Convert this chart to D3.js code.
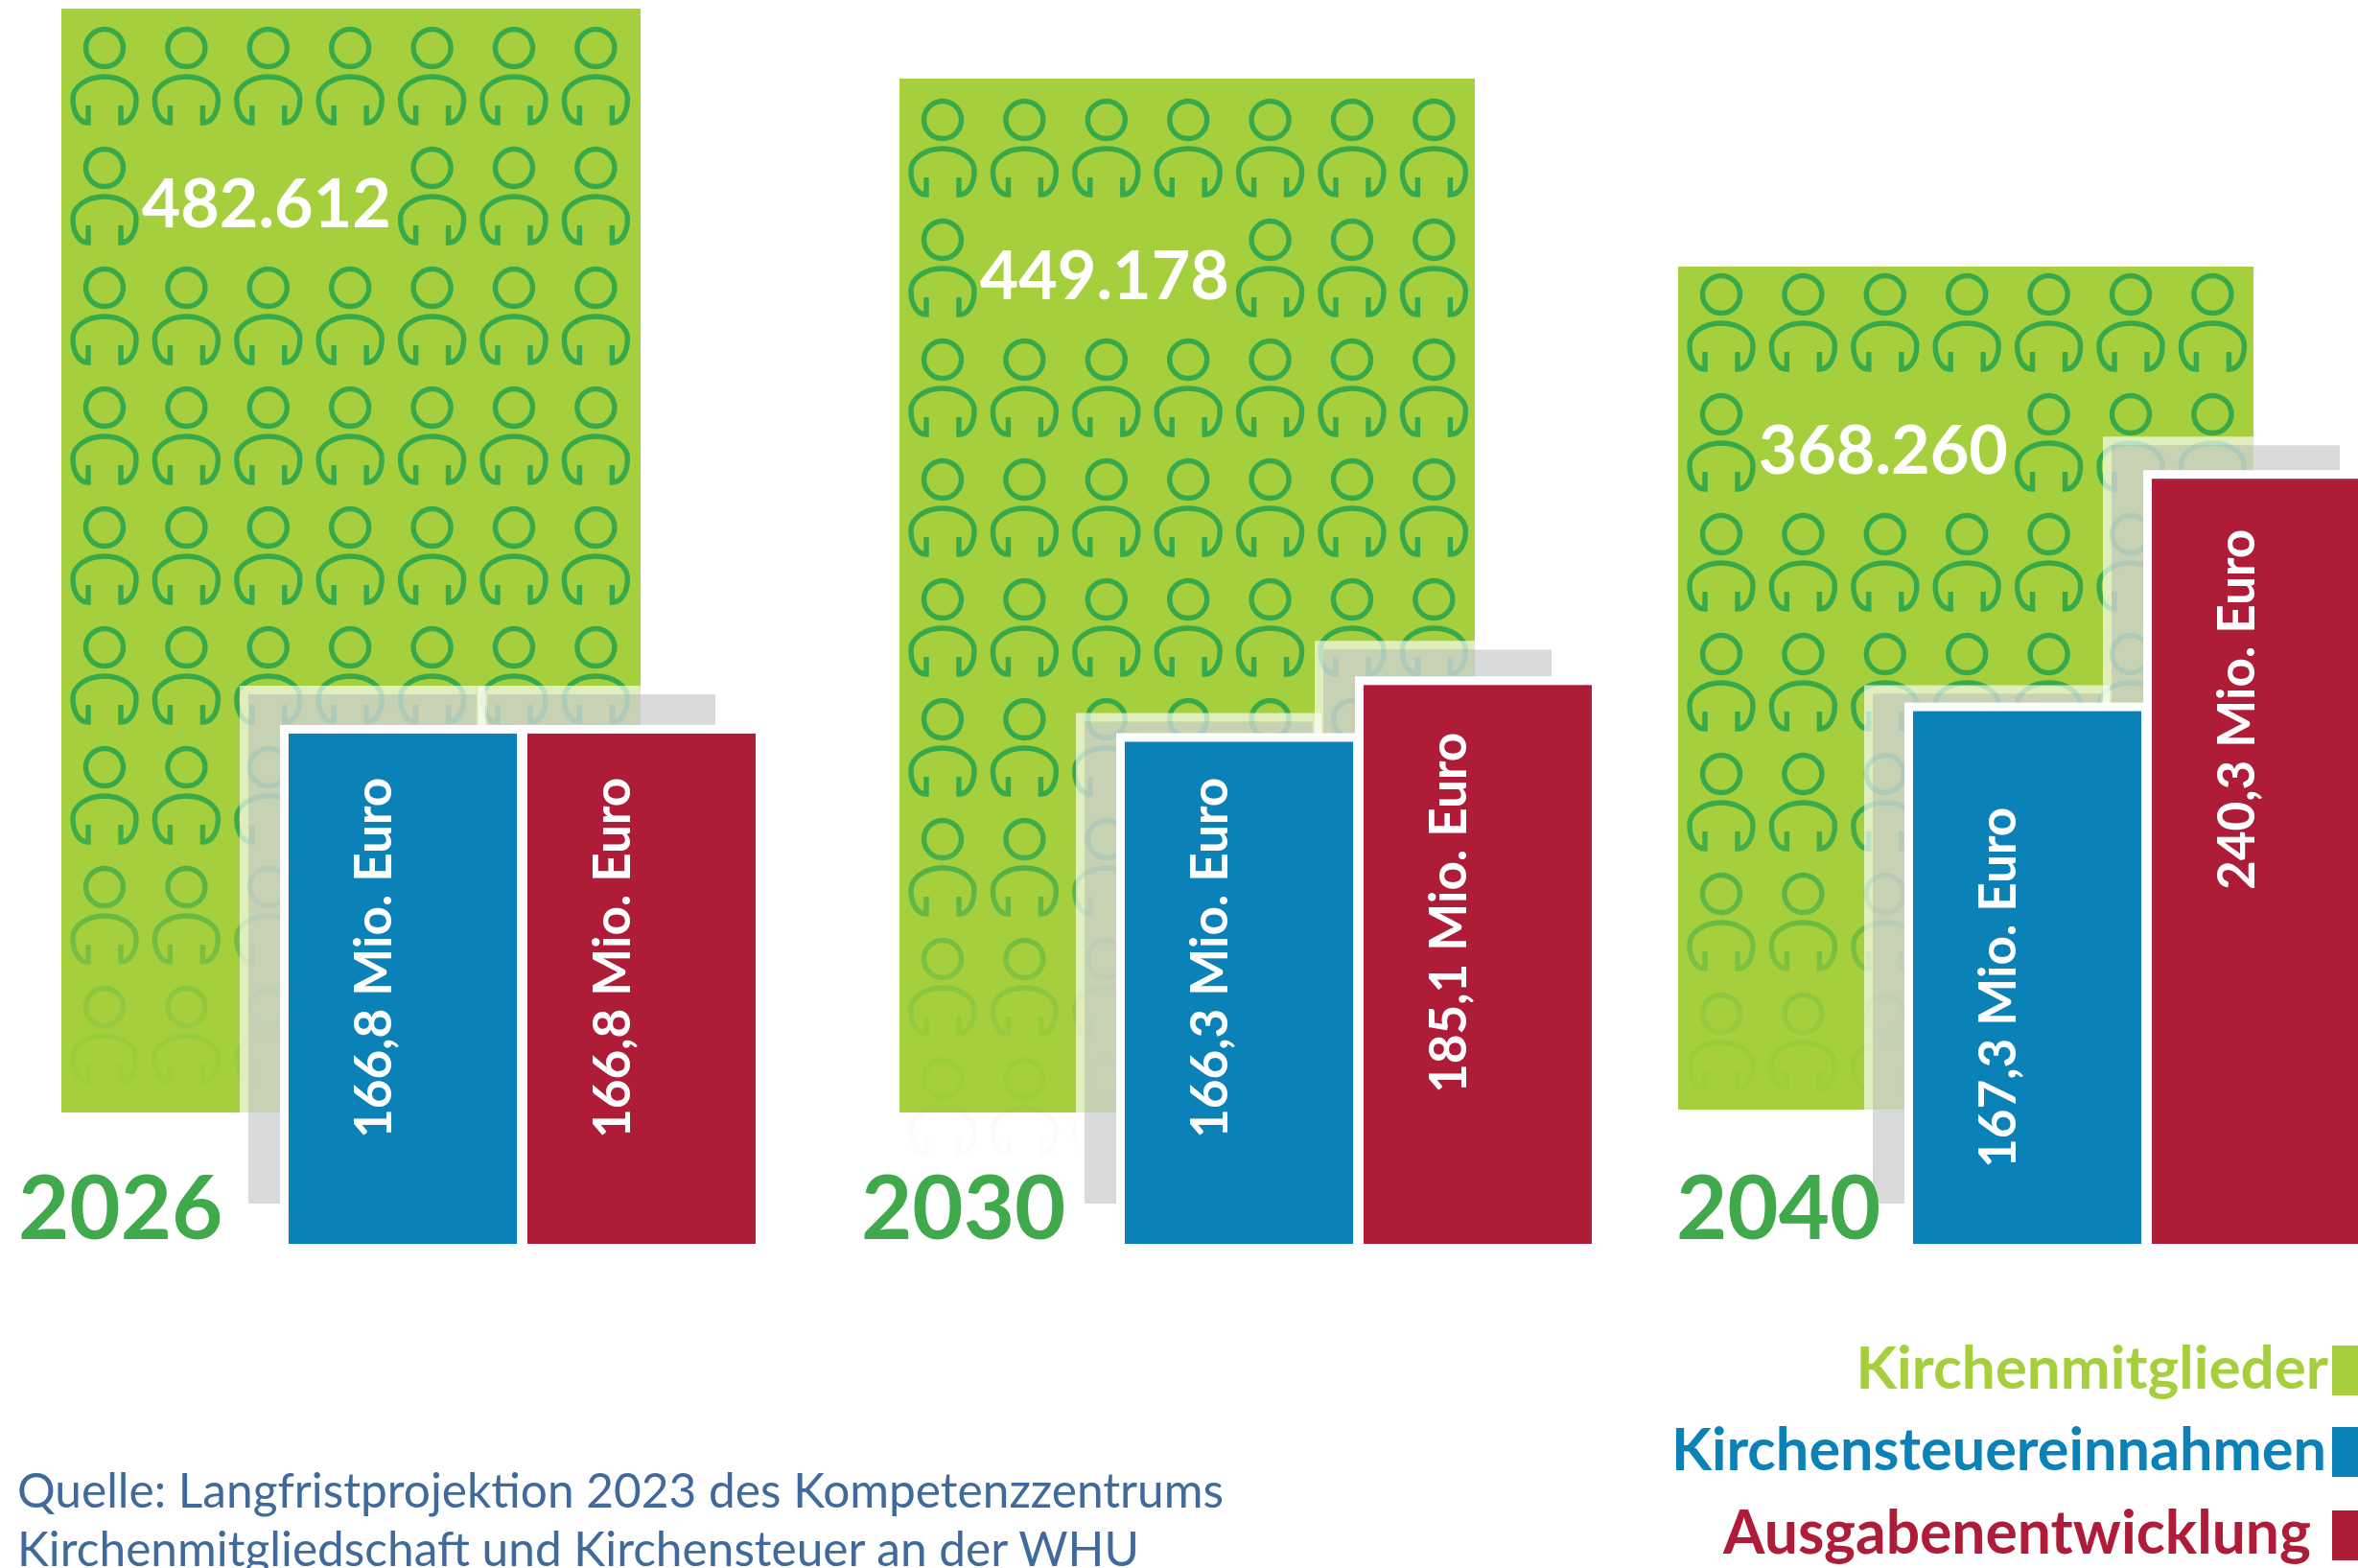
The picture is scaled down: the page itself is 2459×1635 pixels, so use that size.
<!DOCTYPE html>
<html lang="de">
<head>
<meta charset="utf-8">
<title>Kirchenmitglieder, Kirchensteuer und Ausgaben</title>
<script src="https://cdn.jsdelivr.net/npm/d3@7"></script>
<style>
  html, body { margin: 0; background: #fff; overflow: hidden; }
  svg { display: block; }
  text { font-family: Lato, "Open Sans", sans-serif; }
</style>
</head>
<body>
<svg></svg>
<script>
// data
const years = ['2026', '2030', '2040'];
const members = [482612, 449178, 368260];
const income = [166.8, 166.3, 167.3];
const spending = [166.8, 185.1, 240.3];
const legendNames = ['Kirchenmitglieder', 'Kirchensteuereinnahmen', 'Ausgabenentwicklung'];
const sourceLines = [
    'Quelle: Langfristprojektion 2023 des Kompetenzzentrums',
    'Kirchenmitgliedschaft und Kirchensteuer an der WHU'
];

const size = {w: 2459, h: 1635};
const colors = {members: '#a5cf3c', income: '#0a81b7', spending: '#af1c38', person: '#38a94a', year: '#3fa94c', source: '#3f6a9b'};

// the panels are not drawn to one common scale in the original, so each has its own
const layout = {
    greenX: [64, 938, 1750],
    greenBottom: [1160, 1160, 1157],
    greenW: 600,
    memberPx: [1151, 1078, 879],
    barX: [301, 1173, 1995],
    barBottom: 1297,
    barPxPerMio: [3.19, 3.148, 3.32],
    rows: [9, 9, 7],
    firstHead: [41, 43, 29],
    yearX: [19, 898, 1748],
    labelStart: [[110, 110], [110, 157], [79, 369]],
    ghostBottom: 1255,
    ghostLeft: 42,
    ghostRise: [[41, 41], [21, 37], [18, 35]]
};

const svg = d3.select('svg')
    .attr('width', size.w)
    .attr('height', size.h)
    .attr('viewBox', [0, 0, size.w, size.h]);

const de = d3.formatLocale({decimal: ',', thousands: '.', grouping: [3], currency: ['', ' €']});
const fmtMembers = de.format(',d');
const fmtMio = de.format(',.1f');

// people fade out towards the bottom of the green block
const defs = svg.append('defs');
const grad = defs.append('linearGradient')
    .attr('id', 'fade')
    .attr('gradientUnits', 'userSpaceOnUse')
    .attr('x1', 0).attr('x2', 0).attr('y1', 830).attr('y2', 1200);
grad.selectAll('stop')
    .data([[0, 1], [0.14, 0.9], [0.26, 0.68], [0.46, 0.38], [0.61, 0.14], [0.8, 0.05], [1, 0.025]])
    .join('stop')
    .attr('offset', d => d[0])
    .attr('stop-color', '#fff')
    .attr('stop-opacity', d => d[1]);
defs.append('mask')
    .attr('id', 'fadeMask')
    .attr('maskUnits', 'userSpaceOnUse')
    .attr('x', 0).attr('y', 0).attr('width', size.w).attr('height', size.h)
    .append('rect')
    .attr('width', size.w).attr('height', size.h)
    .attr('fill', 'url(#fade)');

const bodyPath = 'M-17 60V78C-27 78-33 67-33 53C-33 40-18 30 0 30C18 30 33 40 33 53C33 67 27 78 17 78V60';

const panel = svg.selectAll('g.panel')
    .data(years.map((year, i) => ({year, i})))
    .join('g')
    .classed('panel', true);

panel.each(function(p) {
    const g = d3.select(this);
    const i = p.i;
    const bottom = layout.greenBottom[i];
    const memberY = d3.scaleLinear().domain([0, members[i]]).range([bottom, bottom - layout.memberPx[i]]);
    const top = memberY(members[i]);

    g.append('rect')
        .attr('x', layout.greenX[i])
        .attr('y', top)
        .attr('width', layout.greenW + (i === 0 ? 4 : 0))
        .attr('height', bottom - top)
        .attr('fill', colors.members);

    // 7 columns of people, columns 1-3 of the second row leave room for the number
    const colX = d3.scalePoint().domain(d3.range(7))
        .range([layout.greenX[i] + 45, layout.greenX[i] + 45 + 6 * 85.4]);
    const rowY = d3.scalePoint().domain(d3.range(layout.rows[i]))
        .range([top + layout.firstHead[i], top + layout.firstHead[i] + (layout.rows[i] - 1) * 125]);
    const cells = d3.cross(d3.range(layout.rows[i]), d3.range(7))
        .filter(d => !(d[0] === 1 && d[1] >= 1 && d[1] <= 3));

    const person = g.append('g')
        .attr('mask', 'url(#fadeMask)')
        .attr('fill', 'none')
        .attr('stroke', colors.person)
        .attr('stroke-width', 5.4)
        .selectAll('g')
        .data(cells)
        .join('g')
        .attr('transform', d => `translate(${colX(d[1])},${rowY(d[0])})`);
    person.append('circle').attr('r', 19.5);
    person.append('path').attr('d', bodyPath);

    g.append('text')
        .attr('x', colX(2) - 2)
        .attr('y', rowY(1) + 62)
        .attr('text-anchor', 'middle')
        .attr('font-size', 70)
        .attr('font-weight', 700)
        .attr('fill', '#fff')
        .text(fmtMembers(members[i]));

    const barX = d3.scaleBand().domain(['income', 'spending'])
        .range([layout.barX[i], layout.barX[i] + 487])
        .paddingInner(11 / 249);
    const barY = d3.scaleLinear().domain([0, 1]).range([layout.barBottom, layout.barBottom - layout.barPxPerMio[i]]);
    const bars = [
        {key: 'income', v: income[i], n: 0},
        {key: 'spending', v: spending[i], n: 1}
    ];
    const ghostTop = d => barY(d.v) - layout.ghostRise[i][d.n];

    // offset ghost of the bars, with a pale edge on three sides
    g.append('g').selectAll('rect')
        .data(bars)
        .join('rect')
        .attr('x', d => barX(d.key) - layout.ghostLeft)
        .attr('y', ghostTop)
        .attr('width', barX.bandwidth())
        .attr('height', d => layout.ghostBottom - ghostTop(d))
        .attr('fill', 'rgba(208,209,210,0.8)');
    g.append('g').selectAll('path')
        .data(bars)
        .join('path')
        .attr('d', d => {
            const x0 = barX(d.key) - layout.ghostLeft - 4.5;
            const x1 = x0 + barX.bandwidth() + 9;
            const y = ghostTop(d) - 4.5;
            return d3.line()([[x0, layout.ghostBottom], [x0, y], [x1, y], [x1, layout.ghostBottom]]);
        })
        .attr('fill', 'none')
        .attr('stroke', 'rgba(255,255,255,0.65)')
        .attr('stroke-width', 9);

    g.append('g').selectAll('rect')
        .data(bars)
        .join('rect')
        .attr('x', d => barX(d.key))
        .attr('y', d => barY(d.v))
        .attr('width', barX.bandwidth())
        .attr('height', d => layout.barBottom - barY(d.v))
        .attr('fill', d => colors[d.key])
        .attr('stroke', '#fff')
        .attr('stroke-width', 18)
        .style('paint-order', 'stroke');

    g.append('g').selectAll('text')
        .data(bars)
        .join('text')
        .attr('transform', d => `translate(${barX(d.key) + 107},${layout.barBottom - layout.labelStart[i][d.n]}) rotate(-90)`)
        .attr('font-size', 53)
        .attr('font-weight', 700)
        .attr('fill', '#fff')
        .text(d => fmtMio(d.v) + ' Mio. Euro');

    g.append('text')
        .attr('x', layout.yearX[i])
        .attr('y', 1292)
        .attr('font-size', 92)
        .attr('font-weight', 700)
        .attr('fill', colors.year)
        .text(p.year);
});

// legend
const legendY = d3.scaleOrdinal().domain(legendNames).range([1448, 1533, 1620]);
const legendRight = d3.scaleOrdinal().domain(legendNames).range([2428, 2426, 2410]);
const legendColor = d3.scaleOrdinal().domain(legendNames).range([colors.members, colors.income, colors.spending]);
const legendFont = d3.scaleOrdinal().domain(legendNames).range([62, 61.2, 62.4]);
const legend = svg.append('g').selectAll('g')
    .data(legendNames)
    .join('g');
legend.append('text')
    .attr('x', d => legendRight(d))
    .attr('y', d => legendY(d))
    .attr('text-anchor', 'end')
    .attr('font-size', d => legendFont(d))
    .attr('font-weight', 700)
    .attr('fill', d => legendColor(d))
    .text(d => d);
legend.append('rect')
    .attr('x', 2432)
    .attr('y', d => legendY(d) - 45)
    .attr('width', 40)
    .attr('height', 52)
    .attr('fill', d => legendColor(d));

// source
svg.append('g').selectAll('text')
    .data(sourceLines)
    .join('text')
    .attr('x', 18)
    .attr('y', (d, i) => 1572 + i * 61)
    .attr('font-size', 49.6)
    .attr('fill', colors.source)
    .text(d => d);
</script>
</body>
</html>
